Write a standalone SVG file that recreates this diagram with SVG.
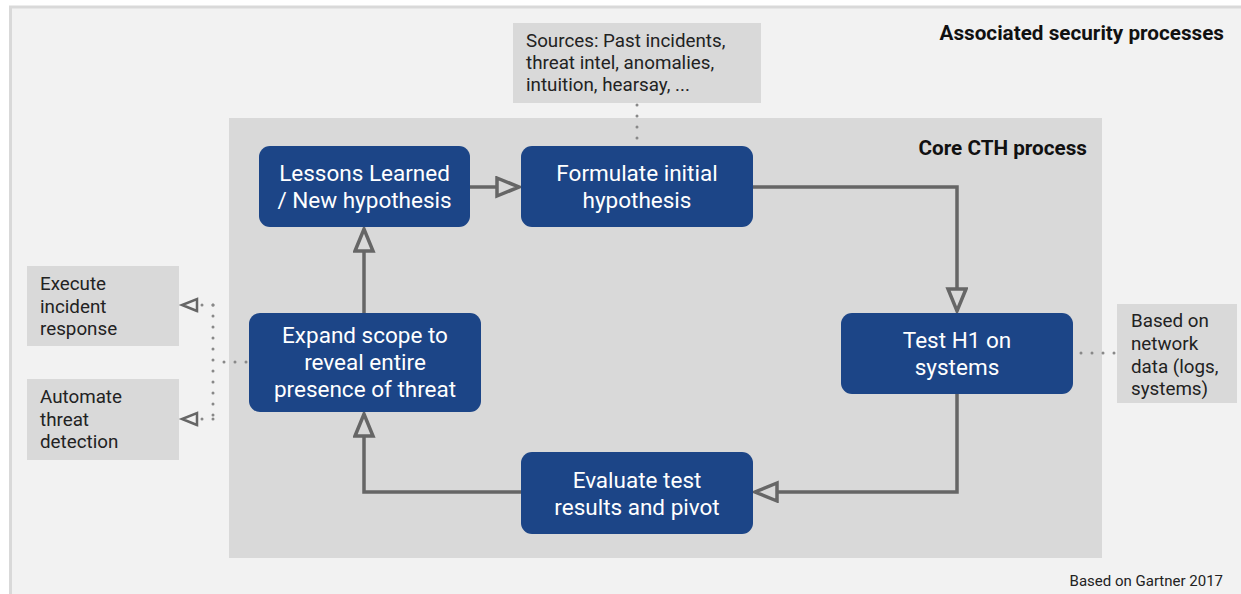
<svg xmlns="http://www.w3.org/2000/svg" width="1241" height="594" viewBox="0 0 1241 594">
<style>
.node rect{fill:#1c4587;}
.node text{fill:#fff;font-family:Roboto,"Liberation Sans",sans-serif;font-size:22.5px;text-anchor:middle;}
.note rect{fill:#d9d9d9;}
.note text{fill:#222;font-family:Roboto,"Liberation Sans",sans-serif;font-size:18.8px;}
.title{fill:#111;font-family:Roboto,"Liberation Sans",sans-serif;font-weight:bold;font-size:20.7px;text-anchor:end;}
.flow{fill:none;stroke:#666;stroke-width:3.5;}
.dot{fill:none;stroke:#888;stroke-width:3;stroke-linecap:round;stroke-dasharray:0 11;}
</style>
<defs>
<marker id="tri" markerUnits="userSpaceOnUse" markerWidth="30" markerHeight="24" refX="24" refY="11" orient="auto">
<path d="M2,2 L24,11 L2,20 Z" fill="#d9d9d9" stroke="#666" stroke-width="3.5" stroke-linejoin="miter"/>
</marker>
<marker id="tris" markerUnits="userSpaceOnUse" markerWidth="22" markerHeight="18" refX="17" refY="8" orient="auto">
<path d="M2,2 L17,8 L2,14 Z" fill="#f2f2f2" stroke="#666" stroke-width="2.5"/>
</marker>
</defs>
<rect x="0" y="0" width="1241" height="594" fill="#fff"/>
<rect x="10.5" y="7" width="1240" height="600" fill="#f2f2f2" stroke="#d9d9d9" stroke-width="3"/>
<rect x="229" y="118" width="873" height="440" fill="#d9d9d9"/>
<text class="title" x="1224" y="40">Associated security processes</text>
<text class="title" x="1087" y="155">Core CTH process</text>
<text x="1223" y="586" fill="#222" font-family="Roboto, 'Liberation Sans', sans-serif" font-size="15" text-anchor="end">Based on Gartner 2017</text>

<g id="connectors">
<path class="flow" d="M470,187 H519" marker-end="url(#tri)"/>
<path class="flow" d="M753,187 H957 V311" marker-end="url(#tri)"/>
<path class="flow" d="M957,394 V492 H755" marker-end="url(#tri)"/>
<path class="flow" d="M521,492 H364 V414" marker-end="url(#tri)"/>
<path class="flow" d="M364,313 V229" marker-end="url(#tri)"/>
<path class="dot" d="M637,105 V144"/>
<path class="dot" d="M1081,353 H1115"/>
<path class="dot" d="M246,362 H213"/>
<path class="dot" d="M213,305 V419"/>
<path class="dot" d="M213,305 H182" marker-end="url(#tris)"/>
<path class="dot" d="M213,419 H182" marker-end="url(#tris)"/>
</g>

<g id="sources" class="note">
<rect x="513" y="23" width="248" height="80"/>
<text x="526" y="47">Sources: Past incidents,</text>
<text x="526" y="69">threat intel, anomalies,</text>
<text x="526" y="91">intuition, hearsay, ...</text>
</g>
<g id="execute" class="note">
<rect x="27" y="266" width="152" height="80"/>
<text x="40" y="290">Execute</text>
<text x="40" y="313">incident</text>
<text x="40" y="335">response</text>
</g>
<g id="automate" class="note">
<rect x="27" y="379" width="152" height="81"/>
<text x="40" y="403">Automate</text>
<text x="40" y="426">threat</text>
<text x="40" y="448">detection</text>
</g>
<g id="based" class="note">
<rect x="1117" y="304" width="120" height="99"/>
<text x="1131" y="327">Based on</text>
<text x="1131" y="350">network</text>
<text x="1131" y="373">data (logs,</text>
<text x="1131" y="395">systems)</text>
</g>

<g id="lessons" class="node">
<rect x="259" y="146" width="211" height="81" rx="11"/>
<text x="364.5" y="181">Lessons Learned</text>
<text x="364.5" y="208">/ New hypothesis</text>
</g>
<g id="formulate" class="node">
<rect x="521" y="146" width="232" height="81" rx="11"/>
<text x="637" y="181">Formulate initial</text>
<text x="637" y="208">hypothesis</text>
</g>
<g id="test" class="node">
<rect x="841" y="313" width="232" height="81" rx="11"/>
<text x="957" y="348">Test H1 on</text>
<text x="957" y="375">systems</text>
</g>
<g id="evaluate" class="node">
<rect x="521" y="452" width="232" height="82" rx="11"/>
<text x="637" y="488">Evaluate test</text>
<text x="637" y="515">results and pivot</text>
</g>
<g id="expand" class="node">
<rect x="249" y="313" width="232" height="99" rx="11"/>
<text x="365" y="343">Expand scope to</text>
<text x="365" y="370">reveal entire</text>
<text x="365" y="397">presence of threat</text>
</g>
</svg>
